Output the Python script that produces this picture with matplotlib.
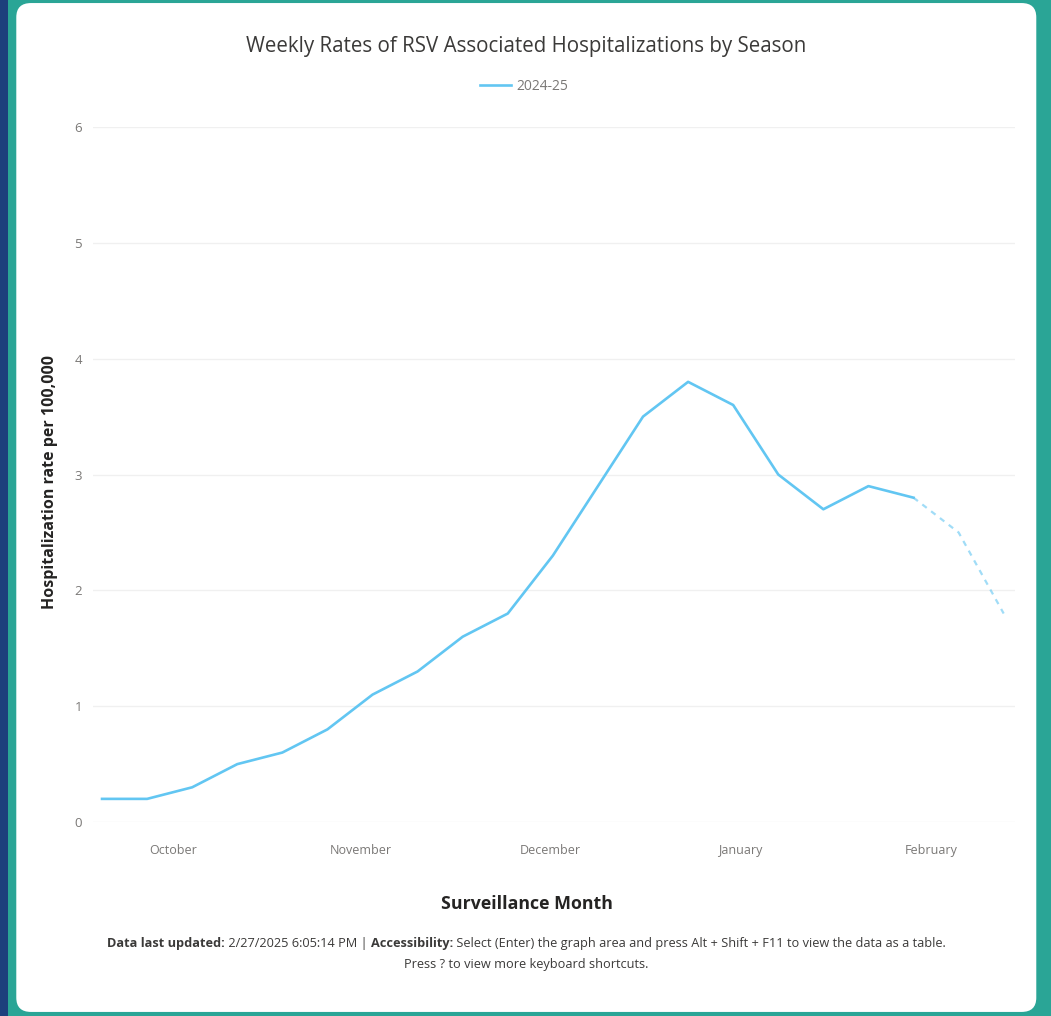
import matplotlib
matplotlib.use("Agg")
import matplotlib.pyplot as plt
from matplotlib.patches import FancyBboxPatch, Rectangle

plt.rcParams['font.family'] = ['Open Sans', 'DejaVu Sans']

# weekly rates, 2024-25 season (last two weeks provisional)
week_idx = list(range(21))
rates = [0.2, 0.2, 0.3, 0.5, 0.6, 0.8, 1.1, 1.3, 1.6, 1.8, 2.3, 2.9, 3.5, 3.8,
         3.6, 3.0, 2.7, 2.9, 2.8, 2.5, 1.8]
n_final = 19  # weeks with complete data

months = ["October", "November", "December", "January", "February"]
month_pos = [1.58, 5.75, 9.95, 14.15, 18.4]
y_ticks = [0, 1, 2, 3, 4, 5, 6]

line_color = "#62c6f2"
text_gray = "#7a7876"

fig = plt.figure(figsize=(10.51, 10.16), dpi=100)
fig.patch.set_facecolor("#2aa596")

# navy strip on the left, white card on top
fig.patches.append(Rectangle((0, 0), 0.008, 1, transform=fig.transFigure,
                             facecolor="#1d3f7c", edgecolor="none", zorder=0))
card = FancyBboxPatch((0.0155, 0.004), 0.9705, 0.993,
                      boxstyle="round,pad=0,rounding_size=0.014",
                      transform=fig.transFigure, facecolor="white",
                      edgecolor="none", zorder=1)
fig.patches.append(card)

ax = fig.add_axes([0.0885, 0.1909, 0.8772, 0.6841])
ax.set_zorder(5)
ax.set_facecolor("none")
ax.plot(week_idx[:n_final], rates[:n_final], color=line_color, lw=1.9,
        label="2024-25", solid_joinstyle="round")
ax.plot(week_idx[n_final - 1:], rates[n_final - 1:], color=line_color, lw=1.6,
        alpha=0.6, linestyle=(0, (2.5, 2.5)))

ax.set_xlim(-0.2, 20.25)
ax.set_ylim(0, 6)
ax.set_yticks(y_ticks)
ax.set_yticklabels([str(v) for v in y_ticks], color=text_gray, fontsize=9.5)
ax.set_xticks(month_pos)
ax.set_xticklabels(months, color=text_gray, fontsize=9)
ax.tick_params(length=0)
ax.tick_params(axis="y", pad=8)
ax.tick_params(axis="x", pad=16)
for s in ax.spines.values():
    s.set_visible(False)
ax.grid(axis="y", color="#f0f0f0", lw=1)
ax.set_axisbelow(True)

ax.set_ylabel("Hospitalization rate per 100,000", fontsize=11.5,
              fontweight="bold", color="#252423")
ax.yaxis.set_label_coords(-0.038, 0.489)
ax.set_xlabel("Surveillance Month", fontsize=12.8, fontweight="bold",
              color="#252423")
ax.xaxis.set_label_coords(0.4707, -0.105)

title = fig.text(0.501, 0.954, "Weekly Rates of RSV Associated Hospitalizations by Season",
                 ha="center", va="center", fontsize=14.8, color="#3b3a39")
title.set_zorder(6)
ax.legend(loc="lower center", bbox_to_anchor=(0.468, 1.03), frameon=False,
          fontsize=10, labelcolor=text_gray, handlelength=2.2, handletextpad=0.4)

# footer with bold captions, sized to span the card
fig.canvas.draw()
renderer = fig.canvas.get_renderer()
footer = [("Data last updated:", "bold"), (" 2/27/2025 6:05:14 PM | ", "normal"),
          ("Accessibility:", "bold"),
          (" Select (Enter) the graph area and press Alt + Shift + F11 to view the data as a table.", "normal")]
pieces = [fig.text(0, 0.071, s, fontsize=7, fontweight=w, color="#3b3a39",
                   va="center", ha="left", zorder=6) for s, w in footer]
total = sum(p.get_window_extent(renderer).width for p in pieces)
size = 7 * 840 / total
for p in pieces:
    p.set_fontsize(size)
widths = [p.get_window_extent(renderer).width / fig.bbox.width for p in pieces]
x = 0.501 - sum(widths) / 2
for p, w in zip(pieces, widths):
    p.set_x(x)
    x += w
fig.text(0.501, 0.051, "Press ? to view more keyboard shortcuts.", fontsize=size,
         color="#3b3a39", ha="center", va="center", zorder=6)

fig.savefig("out.png", dpi=100, facecolor=fig.get_facecolor())
